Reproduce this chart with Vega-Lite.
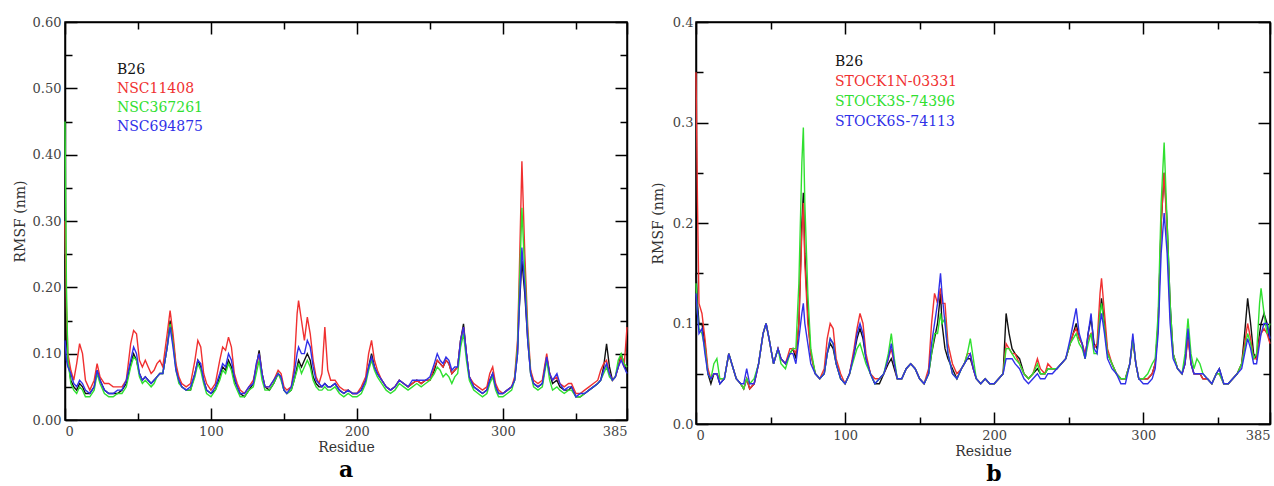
{
"$schema": "https://vega.github.io/schema/vega-lite/v6.json",
"padding": {"left": 12, "top": 15, "right": 0, "bottom": 0},
"config": {"view": {"stroke": "black", "strokeWidth": 1.5}, "font": "DejaVu Serif", "axis": {"grid": false}},
"datasets": {
"A": [
{"res":0,"B26":0.25,"NSC11408":0.30,"NSC367261":0.45,"NSC694875":0.12},
{"res":1,"B26":0.12,"NSC11408":0.17,"NSC367261":0.20,"NSC694875":0.09},
{"res":2,"B26":0.09,"NSC11408":0.10,"NSC367261":0.09,"NSC694875":0.08},
{"res":4,"B26":0.06,"NSC11408":0.075,"NSC367261":0.055,"NSC694875":0.07},
{"res":6,"B26":0.05,"NSC11408":0.06,"NSC367261":0.045,"NSC694875":0.055},
{"res":8,"B26":0.045,"NSC11408":0.085,"NSC367261":0.04,"NSC694875":0.05},
{"res":10,"B26":0.055,"NSC11408":0.115,"NSC367261":0.05,"NSC694875":0.06},
{"res":12,"B26":0.05,"NSC11408":0.10,"NSC367261":0.045,"NSC694875":0.055},
{"res":14,"B26":0.04,"NSC11408":0.06,"NSC367261":0.035,"NSC694875":0.045},
{"res":17,"B26":0.04,"NSC11408":0.045,"NSC367261":0.035,"NSC694875":0.04},
{"res":20,"B26":0.05,"NSC11408":0.06,"NSC367261":0.045,"NSC694875":0.05},
{"res":22,"B26":0.075,"NSC11408":0.085,"NSC367261":0.07,"NSC694875":0.075},
{"res":24,"B26":0.06,"NSC11408":0.065,"NSC367261":0.055,"NSC694875":0.06},
{"res":27,"B26":0.045,"NSC11408":0.055,"NSC367261":0.04,"NSC694875":0.045},
{"res":30,"B26":0.04,"NSC11408":0.055,"NSC367261":0.035,"NSC694875":0.04},
{"res":33,"B26":0.04,"NSC11408":0.05,"NSC367261":0.035,"NSC694875":0.04},
{"res":36,"B26":0.04,"NSC11408":0.05,"NSC367261":0.04,"NSC694875":0.045},
{"res":39,"B26":0.045,"NSC11408":0.05,"NSC367261":0.04,"NSC694875":0.045},
{"res":42,"B26":0.055,"NSC11408":0.06,"NSC367261":0.05,"NSC694875":0.06},
{"res":45,"B26":0.085,"NSC11408":0.115,"NSC367261":0.08,"NSC694875":0.09},
{"res":47,"B26":0.10,"NSC11408":0.135,"NSC367261":0.095,"NSC694875":0.11},
{"res":49,"B26":0.09,"NSC11408":0.13,"NSC367261":0.09,"NSC694875":0.10},
{"res":51,"B26":0.07,"NSC11408":0.09,"NSC367261":0.065,"NSC694875":0.07},
{"res":53,"B26":0.06,"NSC11408":0.08,"NSC367261":0.055,"NSC694875":0.06},
{"res":55,"B26":0.065,"NSC11408":0.09,"NSC367261":0.06,"NSC694875":0.065},
{"res":57,"B26":0.06,"NSC11408":0.08,"NSC367261":0.055,"NSC694875":0.06},
{"res":59,"B26":0.055,"NSC11408":0.07,"NSC367261":0.05,"NSC694875":0.055},
{"res":61,"B26":0.06,"NSC11408":0.075,"NSC367261":0.055,"NSC694875":0.06},
{"res":63,"B26":0.065,"NSC11408":0.085,"NSC367261":0.065,"NSC694875":0.065},
{"res":65,"B26":0.07,"NSC11408":0.09,"NSC367261":0.07,"NSC694875":0.07},
{"res":67,"B26":0.07,"NSC11408":0.08,"NSC367261":0.07,"NSC694875":0.07},
{"res":70,"B26":0.11,"NSC11408":0.13,"NSC367261":0.11,"NSC694875":0.11},
{"res":72,"B26":0.15,"NSC11408":0.165,"NSC367261":0.145,"NSC694875":0.14},
{"res":74,"B26":0.12,"NSC11408":0.13,"NSC367261":0.115,"NSC694875":0.11},
{"res":76,"B26":0.08,"NSC11408":0.085,"NSC367261":0.075,"NSC694875":0.075},
{"res":78,"B26":0.06,"NSC11408":0.065,"NSC367261":0.055,"NSC694875":0.06},
{"res":80,"B26":0.05,"NSC11408":0.055,"NSC367261":0.05,"NSC694875":0.05},
{"res":83,"B26":0.045,"NSC11408":0.05,"NSC367261":0.045,"NSC694875":0.045},
{"res":86,"B26":0.045,"NSC11408":0.055,"NSC367261":0.045,"NSC694875":0.05},
{"res":89,"B26":0.07,"NSC11408":0.09,"NSC367261":0.065,"NSC694875":0.07},
{"res":91,"B26":0.09,"NSC11408":0.12,"NSC367261":0.085,"NSC694875":0.09},
{"res":93,"B26":0.08,"NSC11408":0.11,"NSC367261":0.075,"NSC694875":0.085},
{"res":95,"B26":0.06,"NSC11408":0.07,"NSC367261":0.055,"NSC694875":0.06},
{"res":97,"B26":0.045,"NSC11408":0.055,"NSC367261":0.04,"NSC694875":0.045},
{"res":100,"B26":0.04,"NSC11408":0.045,"NSC367261":0.035,"NSC694875":0.04},
{"res":103,"B26":0.045,"NSC11408":0.055,"NSC367261":0.045,"NSC694875":0.05},
{"res":106,"B26":0.065,"NSC11408":0.09,"NSC367261":0.06,"NSC694875":0.07},
{"res":108,"B26":0.08,"NSC11408":0.11,"NSC367261":0.075,"NSC694875":0.085},
{"res":110,"B26":0.075,"NSC11408":0.105,"NSC367261":0.07,"NSC694875":0.08},
{"res":112,"B26":0.09,"NSC11408":0.125,"NSC367261":0.085,"NSC694875":0.10},
{"res":114,"B26":0.08,"NSC11408":0.11,"NSC367261":0.075,"NSC694875":0.09},
{"res":116,"B26":0.06,"NSC11408":0.07,"NSC367261":0.055,"NSC694875":0.065},
{"res":118,"B26":0.05,"NSC11408":0.055,"NSC367261":0.045,"NSC694875":0.05},
{"res":120,"B26":0.04,"NSC11408":0.045,"NSC367261":0.035,"NSC694875":0.04},
{"res":123,"B26":0.035,"NSC11408":0.04,"NSC367261":0.035,"NSC694875":0.04},
{"res":126,"B26":0.045,"NSC11408":0.05,"NSC367261":0.045,"NSC694875":0.05},
{"res":129,"B26":0.055,"NSC11408":0.06,"NSC367261":0.05,"NSC694875":0.055},
{"res":131,"B26":0.08,"NSC11408":0.08,"NSC367261":0.07,"NSC694875":0.085},
{"res":133,"B26":0.105,"NSC11408":0.10,"NSC367261":0.09,"NSC694875":0.10},
{"res":135,"B26":0.07,"NSC11408":0.07,"NSC367261":0.06,"NSC694875":0.07},
{"res":137,"B26":0.05,"NSC11408":0.05,"NSC367261":0.045,"NSC694875":0.05},
{"res":140,"B26":0.045,"NSC11408":0.05,"NSC367261":0.045,"NSC694875":0.05},
{"res":143,"B26":0.055,"NSC11408":0.06,"NSC367261":0.055,"NSC694875":0.06},
{"res":146,"B26":0.07,"NSC11408":0.075,"NSC367261":0.07,"NSC694875":0.07},
{"res":148,"B26":0.065,"NSC11408":0.07,"NSC367261":0.06,"NSC694875":0.065},
{"res":150,"B26":0.045,"NSC11408":0.05,"NSC367261":0.045,"NSC694875":0.045},
{"res":152,"B26":0.04,"NSC11408":0.045,"NSC367261":0.04,"NSC694875":0.04},
{"res":155,"B26":0.045,"NSC11408":0.05,"NSC367261":0.045,"NSC694875":0.05},
{"res":157,"B26":0.06,"NSC11408":0.08,"NSC367261":0.06,"NSC694875":0.07},
{"res":159,"B26":0.08,"NSC11408":0.16,"NSC367261":0.075,"NSC694875":0.10},
{"res":160,"B26":0.09,"NSC11408":0.18,"NSC367261":0.085,"NSC694875":0.11},
{"res":162,"B26":0.08,"NSC11408":0.15,"NSC367261":0.07,"NSC694875":0.10},
{"res":164,"B26":0.09,"NSC11408":0.12,"NSC367261":0.08,"NSC694875":0.10},
{"res":166,"B26":0.10,"NSC11408":0.155,"NSC367261":0.09,"NSC694875":0.12},
{"res":168,"B26":0.09,"NSC11408":0.13,"NSC367261":0.08,"NSC694875":0.11},
{"res":170,"B26":0.065,"NSC11408":0.09,"NSC367261":0.06,"NSC694875":0.08},
{"res":172,"B26":0.055,"NSC11408":0.065,"NSC367261":0.05,"NSC694875":0.06},
{"res":174,"B26":0.05,"NSC11408":0.055,"NSC367261":0.045,"NSC694875":0.055},
{"res":176,"B26":0.05,"NSC11408":0.07,"NSC367261":0.045,"NSC694875":0.05},
{"res":178,"B26":0.055,"NSC11408":0.14,"NSC367261":0.05,"NSC694875":0.055},
{"res":180,"B26":0.05,"NSC11408":0.075,"NSC367261":0.045,"NSC694875":0.05},
{"res":182,"B26":0.05,"NSC11408":0.06,"NSC367261":0.045,"NSC694875":0.05},
{"res":185,"B26":0.055,"NSC11408":0.06,"NSC367261":0.05,"NSC694875":0.055},
{"res":188,"B26":0.045,"NSC11408":0.05,"NSC367261":0.04,"NSC694875":0.045},
{"res":191,"B26":0.04,"NSC11408":0.045,"NSC367261":0.035,"NSC694875":0.04},
{"res":194,"B26":0.045,"NSC11408":0.045,"NSC367261":0.04,"NSC694875":0.045},
{"res":197,"B26":0.04,"NSC11408":0.04,"NSC367261":0.035,"NSC694875":0.04},
{"res":200,"B26":0.04,"NSC11408":0.04,"NSC367261":0.035,"NSC694875":0.04},
{"res":203,"B26":0.045,"NSC11408":0.05,"NSC367261":0.04,"NSC694875":0.045},
{"res":206,"B26":0.06,"NSC11408":0.065,"NSC367261":0.055,"NSC694875":0.06},
{"res":208,"B26":0.08,"NSC11408":0.10,"NSC367261":0.075,"NSC694875":0.08},
{"res":210,"B26":0.10,"NSC11408":0.12,"NSC367261":0.09,"NSC694875":0.095},
{"res":212,"B26":0.08,"NSC11408":0.09,"NSC367261":0.075,"NSC694875":0.08},
{"res":214,"B26":0.07,"NSC11408":0.075,"NSC367261":0.065,"NSC694875":0.07},
{"res":217,"B26":0.06,"NSC11408":0.06,"NSC367261":0.055,"NSC694875":0.06},
{"res":220,"B26":0.05,"NSC11408":0.05,"NSC367261":0.045,"NSC694875":0.05},
{"res":223,"B26":0.045,"NSC11408":0.045,"NSC367261":0.04,"NSC694875":0.045},
{"res":226,"B26":0.05,"NSC11408":0.05,"NSC367261":0.045,"NSC694875":0.05},
{"res":229,"B26":0.06,"NSC11408":0.06,"NSC367261":0.055,"NSC694875":0.06},
{"res":232,"B26":0.055,"NSC11408":0.055,"NSC367261":0.05,"NSC694875":0.055},
{"res":235,"B26":0.05,"NSC11408":0.05,"NSC367261":0.045,"NSC694875":0.05},
{"res":238,"B26":0.055,"NSC11408":0.055,"NSC367261":0.05,"NSC694875":0.06},
{"res":241,"B26":0.06,"NSC11408":0.06,"NSC367261":0.055,"NSC694875":0.06},
{"res":244,"B26":0.055,"NSC11408":0.055,"NSC367261":0.05,"NSC694875":0.06},
{"res":247,"B26":0.06,"NSC11408":0.06,"NSC367261":0.055,"NSC694875":0.06},
{"res":250,"B26":0.06,"NSC11408":0.06,"NSC367261":0.06,"NSC694875":0.065},
{"res":253,"B26":0.075,"NSC11408":0.08,"NSC367261":0.07,"NSC694875":0.085},
{"res":255,"B26":0.09,"NSC11408":0.09,"NSC367261":0.08,"NSC694875":0.10},
{"res":257,"B26":0.085,"NSC11408":0.085,"NSC367261":0.075,"NSC694875":0.09},
{"res":259,"B26":0.08,"NSC11408":0.08,"NSC367261":0.065,"NSC694875":0.085},
{"res":261,"B26":0.09,"NSC11408":0.09,"NSC367261":0.07,"NSC694875":0.095},
{"res":263,"B26":0.085,"NSC11408":0.085,"NSC367261":0.065,"NSC694875":0.09},
{"res":265,"B26":0.07,"NSC11408":0.07,"NSC367261":0.055,"NSC694875":0.075},
{"res":267,"B26":0.075,"NSC11408":0.075,"NSC367261":0.065,"NSC694875":0.08},
{"res":269,"B26":0.08,"NSC11408":0.08,"NSC367261":0.07,"NSC694875":0.08},
{"res":271,"B26":0.12,"NSC11408":0.12,"NSC367261":0.11,"NSC694875":0.12},
{"res":273,"B26":0.145,"NSC11408":0.14,"NSC367261":0.13,"NSC694875":0.14},
{"res":275,"B26":0.10,"NSC11408":0.10,"NSC367261":0.09,"NSC694875":0.10},
{"res":277,"B26":0.065,"NSC11408":0.065,"NSC367261":0.06,"NSC694875":0.065},
{"res":280,"B26":0.05,"NSC11408":0.055,"NSC367261":0.045,"NSC694875":0.05},
{"res":283,"B26":0.045,"NSC11408":0.05,"NSC367261":0.04,"NSC694875":0.045},
{"res":286,"B26":0.04,"NSC11408":0.045,"NSC367261":0.035,"NSC694875":0.04},
{"res":289,"B26":0.045,"NSC11408":0.05,"NSC367261":0.04,"NSC694875":0.045},
{"res":291,"B26":0.06,"NSC11408":0.07,"NSC367261":0.055,"NSC694875":0.06},
{"res":293,"B26":0.07,"NSC11408":0.08,"NSC367261":0.065,"NSC694875":0.07},
{"res":295,"B26":0.05,"NSC11408":0.055,"NSC367261":0.045,"NSC694875":0.05},
{"res":297,"B26":0.04,"NSC11408":0.045,"NSC367261":0.035,"NSC694875":0.04},
{"res":300,"B26":0.04,"NSC11408":0.04,"NSC367261":0.035,"NSC694875":0.04},
{"res":303,"B26":0.045,"NSC11408":0.045,"NSC367261":0.04,"NSC694875":0.045},
{"res":306,"B26":0.05,"NSC11408":0.05,"NSC367261":0.045,"NSC694875":0.05},
{"res":308,"B26":0.06,"NSC11408":0.065,"NSC367261":0.06,"NSC694875":0.06},
{"res":310,"B26":0.10,"NSC11408":0.12,"NSC367261":0.11,"NSC694875":0.10},
{"res":311,"B26":0.16,"NSC11408":0.20,"NSC367261":0.18,"NSC694875":0.16},
{"res":313,"B26":0.24,"NSC11408":0.39,"NSC367261":0.32,"NSC694875":0.26},
{"res":315,"B26":0.19,"NSC11408":0.25,"NSC367261":0.22,"NSC694875":0.20},
{"res":317,"B26":0.12,"NSC11408":0.14,"NSC367261":0.13,"NSC694875":0.12},
{"res":319,"B26":0.07,"NSC11408":0.075,"NSC367261":0.07,"NSC694875":0.07},
{"res":321,"B26":0.055,"NSC11408":0.06,"NSC367261":0.05,"NSC694875":0.055},
{"res":324,"B26":0.05,"NSC11408":0.055,"NSC367261":0.045,"NSC694875":0.05},
{"res":327,"B26":0.055,"NSC11408":0.06,"NSC367261":0.05,"NSC694875":0.055},
{"res":330,"B26":0.095,"NSC11408":0.10,"NSC367261":0.09,"NSC694875":0.095},
{"res":332,"B26":0.07,"NSC11408":0.07,"NSC367261":0.06,"NSC694875":0.07},
{"res":334,"B26":0.055,"NSC11408":0.06,"NSC367261":0.045,"NSC694875":0.06},
{"res":337,"B26":0.06,"NSC11408":0.065,"NSC367261":0.05,"NSC694875":0.07},
{"res":339,"B26":0.05,"NSC11408":0.055,"NSC367261":0.045,"NSC694875":0.055},
{"res":342,"B26":0.045,"NSC11408":0.05,"NSC367261":0.04,"NSC694875":0.045},
{"res":345,"B26":0.045,"NSC11408":0.055,"NSC367261":0.045,"NSC694875":0.05},
{"res":347,"B26":0.05,"NSC11408":0.055,"NSC367261":0.045,"NSC694875":0.05},
{"res":350,"B26":0.035,"NSC11408":0.04,"NSC367261":0.035,"NSC694875":0.035},
{"res":353,"B26":0.035,"NSC11408":0.04,"NSC367261":0.035,"NSC694875":0.04},
{"res":356,"B26":0.04,"NSC11408":0.045,"NSC367261":0.04,"NSC694875":0.04},
{"res":359,"B26":0.045,"NSC11408":0.05,"NSC367261":0.045,"NSC694875":0.045},
{"res":362,"B26":0.05,"NSC11408":0.055,"NSC367261":0.05,"NSC694875":0.05},
{"res":365,"B26":0.055,"NSC11408":0.06,"NSC367261":0.055,"NSC694875":0.055},
{"res":367,"B26":0.06,"NSC11408":0.075,"NSC367261":0.06,"NSC694875":0.06},
{"res":369,"B26":0.08,"NSC11408":0.085,"NSC367261":0.07,"NSC694875":0.075},
{"res":371,"B26":0.115,"NSC11408":0.09,"NSC367261":0.08,"NSC694875":0.085},
{"res":373,"B26":0.08,"NSC11408":0.07,"NSC367261":0.065,"NSC694875":0.07},
{"res":375,"B26":0.06,"NSC11408":0.06,"NSC367261":0.06,"NSC694875":0.06},
{"res":377,"B26":0.065,"NSC11408":0.065,"NSC367261":0.065,"NSC694875":0.065},
{"res":379,"B26":0.08,"NSC11408":0.08,"NSC367261":0.09,"NSC694875":0.08},
{"res":381,"B26":0.10,"NSC11408":0.095,"NSC367261":0.10,"NSC694875":0.09},
{"res":383,"B26":0.085,"NSC11408":0.08,"NSC367261":0.085,"NSC694875":0.08},
{"res":385,"B26":0.07,"NSC11408":0.14,"NSC367261":0.08,"NSC694875":0.07}
],
"B": [
{"res":0,"B26":0.15,"STOCK1N-03331":0.35,"STOCK3S-74396":0.14,"STOCK6S-74113":0.13},
{"res":1,"B26":0.12,"STOCK1N-03331":0.22,"STOCK3S-74396":0.11,"STOCK6S-74113":0.11},
{"res":2,"B26":0.10,"STOCK1N-03331":0.12,"STOCK3S-74396":0.095,"STOCK6S-74113":0.09},
{"res":4,"B26":0.10,"STOCK1N-03331":0.11,"STOCK3S-74396":0.09,"STOCK6S-74113":0.095},
{"res":6,"B26":0.08,"STOCK1N-03331":0.085,"STOCK3S-74396":0.075,"STOCK6S-74113":0.07},
{"res":8,"B26":0.05,"STOCK1N-03331":0.055,"STOCK3S-74396":0.05,"STOCK6S-74113":0.05},
{"res":10,"B26":0.04,"STOCK1N-03331":0.045,"STOCK3S-74396":0.045,"STOCK6S-74113":0.045},
{"res":12,"B26":0.05,"STOCK1N-03331":0.05,"STOCK3S-74396":0.06,"STOCK6S-74113":0.05},
{"res":14,"B26":0.05,"STOCK1N-03331":0.05,"STOCK3S-74396":0.065,"STOCK6S-74113":0.05},
{"res":16,"B26":0.04,"STOCK1N-03331":0.045,"STOCK3S-74396":0.045,"STOCK6S-74113":0.04},
{"res":19,"B26":0.045,"STOCK1N-03331":0.045,"STOCK3S-74396":0.045,"STOCK6S-74113":0.045},
{"res":22,"B26":0.07,"STOCK1N-03331":0.07,"STOCK3S-74396":0.07,"STOCK6S-74113":0.07},
{"res":24,"B26":0.06,"STOCK1N-03331":0.06,"STOCK3S-74396":0.06,"STOCK6S-74113":0.06},
{"res":27,"B26":0.045,"STOCK1N-03331":0.045,"STOCK3S-74396":0.045,"STOCK6S-74113":0.045},
{"res":30,"B26":0.04,"STOCK1N-03331":0.04,"STOCK3S-74396":0.04,"STOCK6S-74113":0.04},
{"res":32,"B26":0.035,"STOCK1N-03331":0.035,"STOCK3S-74396":0.035,"STOCK6S-74113":0.04},
{"res":34,"B26":0.045,"STOCK1N-03331":0.045,"STOCK3S-74396":0.045,"STOCK6S-74113":0.055},
{"res":36,"B26":0.035,"STOCK1N-03331":0.035,"STOCK3S-74396":0.04,"STOCK6S-74113":0.04},
{"res":39,"B26":0.04,"STOCK1N-03331":0.04,"STOCK3S-74396":0.045,"STOCK6S-74113":0.04},
{"res":42,"B26":0.06,"STOCK1N-03331":0.06,"STOCK3S-74396":0.06,"STOCK6S-74113":0.06},
{"res":45,"B26":0.09,"STOCK1N-03331":0.09,"STOCK3S-74396":0.09,"STOCK6S-74113":0.09},
{"res":47,"B26":0.10,"STOCK1N-03331":0.10,"STOCK3S-74396":0.10,"STOCK6S-74113":0.10},
{"res":49,"B26":0.085,"STOCK1N-03331":0.085,"STOCK3S-74396":0.085,"STOCK6S-74113":0.085},
{"res":52,"B26":0.06,"STOCK1N-03331":0.06,"STOCK3S-74396":0.06,"STOCK6S-74113":0.06},
{"res":55,"B26":0.075,"STOCK1N-03331":0.075,"STOCK3S-74396":0.075,"STOCK6S-74113":0.075},
{"res":57,"B26":0.065,"STOCK1N-03331":0.065,"STOCK3S-74396":0.06,"STOCK6S-74113":0.065},
{"res":60,"B26":0.06,"STOCK1N-03331":0.06,"STOCK3S-74396":0.055,"STOCK6S-74113":0.06},
{"res":63,"B26":0.07,"STOCK1N-03331":0.075,"STOCK3S-74396":0.07,"STOCK6S-74113":0.07},
{"res":65,"B26":0.075,"STOCK1N-03331":0.075,"STOCK3S-74396":0.075,"STOCK6S-74113":0.07},
{"res":67,"B26":0.065,"STOCK1N-03331":0.07,"STOCK3S-74396":0.075,"STOCK6S-74113":0.06},
{"res":69,"B26":0.10,"STOCK1N-03331":0.10,"STOCK3S-74396":0.14,"STOCK6S-74113":0.085},
{"res":71,"B26":0.20,"STOCK1N-03331":0.19,"STOCK3S-74396":0.26,"STOCK6S-74113":0.11},
{"res":72,"B26":0.23,"STOCK1N-03331":0.22,"STOCK3S-74396":0.295,"STOCK6S-74113":0.12},
{"res":73,"B26":0.17,"STOCK1N-03331":0.16,"STOCK3S-74396":0.22,"STOCK6S-74113":0.10},
{"res":75,"B26":0.11,"STOCK1N-03331":0.10,"STOCK3S-74396":0.13,"STOCK6S-74113":0.08},
{"res":77,"B26":0.07,"STOCK1N-03331":0.07,"STOCK3S-74396":0.075,"STOCK6S-74113":0.06},
{"res":80,"B26":0.05,"STOCK1N-03331":0.05,"STOCK3S-74396":0.05,"STOCK6S-74113":0.05},
{"res":83,"B26":0.045,"STOCK1N-03331":0.045,"STOCK3S-74396":0.045,"STOCK6S-74113":0.045},
{"res":86,"B26":0.05,"STOCK1N-03331":0.055,"STOCK3S-74396":0.05,"STOCK6S-74113":0.05},
{"res":88,"B26":0.07,"STOCK1N-03331":0.085,"STOCK3S-74396":0.07,"STOCK6S-74113":0.07},
{"res":90,"B26":0.08,"STOCK1N-03331":0.10,"STOCK3S-74396":0.085,"STOCK6S-74113":0.085},
{"res":92,"B26":0.075,"STOCK1N-03331":0.095,"STOCK3S-74396":0.08,"STOCK6S-74113":0.08},
{"res":94,"B26":0.06,"STOCK1N-03331":0.065,"STOCK3S-74396":0.06,"STOCK6S-74113":0.06},
{"res":97,"B26":0.045,"STOCK1N-03331":0.05,"STOCK3S-74396":0.045,"STOCK6S-74113":0.045},
{"res":100,"B26":0.04,"STOCK1N-03331":0.04,"STOCK3S-74396":0.04,"STOCK6S-74113":0.04},
{"res":103,"B26":0.05,"STOCK1N-03331":0.05,"STOCK3S-74396":0.05,"STOCK6S-74113":0.05},
{"res":106,"B26":0.07,"STOCK1N-03331":0.075,"STOCK3S-74396":0.065,"STOCK6S-74113":0.07},
{"res":108,"B26":0.085,"STOCK1N-03331":0.095,"STOCK3S-74396":0.075,"STOCK6S-74113":0.09},
{"res":110,"B26":0.095,"STOCK1N-03331":0.11,"STOCK3S-74396":0.08,"STOCK6S-74113":0.10},
{"res":112,"B26":0.085,"STOCK1N-03331":0.10,"STOCK3S-74396":0.07,"STOCK6S-74113":0.09},
{"res":114,"B26":0.065,"STOCK1N-03331":0.07,"STOCK3S-74396":0.06,"STOCK6S-74113":0.065},
{"res":117,"B26":0.05,"STOCK1N-03331":0.05,"STOCK3S-74396":0.05,"STOCK6S-74113":0.05},
{"res":120,"B26":0.04,"STOCK1N-03331":0.045,"STOCK3S-74396":0.04,"STOCK6S-74113":0.04},
{"res":123,"B26":0.04,"STOCK1N-03331":0.045,"STOCK3S-74396":0.045,"STOCK6S-74113":0.045},
{"res":126,"B26":0.05,"STOCK1N-03331":0.05,"STOCK3S-74396":0.05,"STOCK6S-74113":0.05},
{"res":129,"B26":0.06,"STOCK1N-03331":0.065,"STOCK3S-74396":0.07,"STOCK6S-74113":0.065},
{"res":131,"B26":0.065,"STOCK1N-03331":0.075,"STOCK3S-74396":0.09,"STOCK6S-74113":0.08},
{"res":133,"B26":0.055,"STOCK1N-03331":0.06,"STOCK3S-74396":0.065,"STOCK6S-74113":0.06},
{"res":135,"B26":0.045,"STOCK1N-03331":0.045,"STOCK3S-74396":0.045,"STOCK6S-74113":0.045},
{"res":138,"B26":0.045,"STOCK1N-03331":0.045,"STOCK3S-74396":0.045,"STOCK6S-74113":0.045},
{"res":141,"B26":0.055,"STOCK1N-03331":0.055,"STOCK3S-74396":0.055,"STOCK6S-74113":0.055},
{"res":144,"B26":0.06,"STOCK1N-03331":0.06,"STOCK3S-74396":0.06,"STOCK6S-74113":0.06},
{"res":147,"B26":0.055,"STOCK1N-03331":0.055,"STOCK3S-74396":0.055,"STOCK6S-74113":0.055},
{"res":150,"B26":0.045,"STOCK1N-03331":0.045,"STOCK3S-74396":0.045,"STOCK6S-74113":0.045},
{"res":153,"B26":0.04,"STOCK1N-03331":0.04,"STOCK3S-74396":0.04,"STOCK6S-74113":0.04},
{"res":156,"B26":0.05,"STOCK1N-03331":0.055,"STOCK3S-74396":0.05,"STOCK6S-74113":0.05},
{"res":158,"B26":0.07,"STOCK1N-03331":0.10,"STOCK3S-74396":0.07,"STOCK6S-74113":0.08},
{"res":160,"B26":0.085,"STOCK1N-03331":0.13,"STOCK3S-74396":0.09,"STOCK6S-74113":0.10},
{"res":162,"B26":0.10,"STOCK1N-03331":0.12,"STOCK3S-74396":0.09,"STOCK6S-74113":0.12},
{"res":164,"B26":0.13,"STOCK1N-03331":0.135,"STOCK3S-74396":0.11,"STOCK6S-74113":0.15},
{"res":165,"B26":0.10,"STOCK1N-03331":0.12,"STOCK3S-74396":0.10,"STOCK6S-74113":0.13},
{"res":167,"B26":0.075,"STOCK1N-03331":0.12,"STOCK3S-74396":0.105,"STOCK6S-74113":0.10},
{"res":169,"B26":0.065,"STOCK1N-03331":0.08,"STOCK3S-74396":0.07,"STOCK6S-74113":0.07},
{"res":172,"B26":0.055,"STOCK1N-03331":0.06,"STOCK3S-74396":0.05,"STOCK6S-74113":0.05},
{"res":175,"B26":0.045,"STOCK1N-03331":0.05,"STOCK3S-74396":0.045,"STOCK6S-74113":0.045},
{"res":178,"B26":0.055,"STOCK1N-03331":0.055,"STOCK3S-74396":0.055,"STOCK6S-74113":0.055},
{"res":180,"B26":0.06,"STOCK1N-03331":0.06,"STOCK3S-74396":0.06,"STOCK6S-74113":0.06},
{"res":182,"B26":0.065,"STOCK1N-03331":0.07,"STOCK3S-74396":0.07,"STOCK6S-74113":0.065},
{"res":184,"B26":0.065,"STOCK1N-03331":0.07,"STOCK3S-74396":0.085,"STOCK6S-74113":0.07},
{"res":186,"B26":0.055,"STOCK1N-03331":0.055,"STOCK3S-74396":0.065,"STOCK6S-74113":0.055},
{"res":188,"B26":0.045,"STOCK1N-03331":0.045,"STOCK3S-74396":0.045,"STOCK6S-74113":0.045},
{"res":191,"B26":0.04,"STOCK1N-03331":0.04,"STOCK3S-74396":0.04,"STOCK6S-74113":0.04},
{"res":194,"B26":0.045,"STOCK1N-03331":0.045,"STOCK3S-74396":0.045,"STOCK6S-74113":0.045},
{"res":197,"B26":0.04,"STOCK1N-03331":0.04,"STOCK3S-74396":0.04,"STOCK6S-74113":0.04},
{"res":200,"B26":0.04,"STOCK1N-03331":0.04,"STOCK3S-74396":0.04,"STOCK6S-74113":0.04},
{"res":203,"B26":0.045,"STOCK1N-03331":0.045,"STOCK3S-74396":0.045,"STOCK6S-74113":0.045},
{"res":206,"B26":0.05,"STOCK1N-03331":0.05,"STOCK3S-74396":0.05,"STOCK6S-74113":0.05},
{"res":208,"B26":0.11,"STOCK1N-03331":0.08,"STOCK3S-74396":0.075,"STOCK6S-74113":0.065},
{"res":210,"B26":0.09,"STOCK1N-03331":0.075,"STOCK3S-74396":0.075,"STOCK6S-74113":0.065},
{"res":212,"B26":0.075,"STOCK1N-03331":0.07,"STOCK3S-74396":0.07,"STOCK6S-74113":0.065},
{"res":214,"B26":0.07,"STOCK1N-03331":0.07,"STOCK3S-74396":0.065,"STOCK6S-74113":0.06},
{"res":217,"B26":0.065,"STOCK1N-03331":0.06,"STOCK3S-74396":0.06,"STOCK6S-74113":0.055},
{"res":220,"B26":0.05,"STOCK1N-03331":0.05,"STOCK3S-74396":0.05,"STOCK6S-74113":0.045},
{"res":223,"B26":0.045,"STOCK1N-03331":0.045,"STOCK3S-74396":0.045,"STOCK6S-74113":0.04},
{"res":226,"B26":0.05,"STOCK1N-03331":0.05,"STOCK3S-74396":0.05,"STOCK6S-74113":0.045},
{"res":229,"B26":0.055,"STOCK1N-03331":0.065,"STOCK3S-74396":0.06,"STOCK6S-74113":0.05},
{"res":231,"B26":0.05,"STOCK1N-03331":0.055,"STOCK3S-74396":0.05,"STOCK6S-74113":0.045},
{"res":234,"B26":0.05,"STOCK1N-03331":0.05,"STOCK3S-74396":0.05,"STOCK6S-74113":0.045},
{"res":236,"B26":0.055,"STOCK1N-03331":0.06,"STOCK3S-74396":0.055,"STOCK6S-74113":0.05},
{"res":239,"B26":0.055,"STOCK1N-03331":0.055,"STOCK3S-74396":0.055,"STOCK6S-74113":0.05},
{"res":242,"B26":0.055,"STOCK1N-03331":0.055,"STOCK3S-74396":0.055,"STOCK6S-74113":0.055},
{"res":245,"B26":0.06,"STOCK1N-03331":0.06,"STOCK3S-74396":0.06,"STOCK6S-74113":0.06},
{"res":248,"B26":0.065,"STOCK1N-03331":0.065,"STOCK3S-74396":0.065,"STOCK6S-74113":0.065},
{"res":251,"B26":0.08,"STOCK1N-03331":0.08,"STOCK3S-74396":0.08,"STOCK6S-74113":0.085},
{"res":253,"B26":0.09,"STOCK1N-03331":0.09,"STOCK3S-74396":0.085,"STOCK6S-74113":0.10},
{"res":255,"B26":0.10,"STOCK1N-03331":0.095,"STOCK3S-74396":0.09,"STOCK6S-74113":0.115},
{"res":257,"B26":0.085,"STOCK1N-03331":0.085,"STOCK3S-74396":0.08,"STOCK6S-74113":0.09},
{"res":259,"B26":0.08,"STOCK1N-03331":0.08,"STOCK3S-74396":0.075,"STOCK6S-74113":0.08},
{"res":261,"B26":0.065,"STOCK1N-03331":0.07,"STOCK3S-74396":0.065,"STOCK6S-74113":0.065},
{"res":263,"B26":0.09,"STOCK1N-03331":0.085,"STOCK3S-74396":0.08,"STOCK6S-74113":0.09},
{"res":265,"B26":0.105,"STOCK1N-03331":0.09,"STOCK3S-74396":0.09,"STOCK6S-74113":0.11},
{"res":267,"B26":0.08,"STOCK1N-03331":0.075,"STOCK3S-74396":0.07,"STOCK6S-74113":0.075},
{"res":269,"B26":0.075,"STOCK1N-03331":0.08,"STOCK3S-74396":0.07,"STOCK6S-74113":0.07},
{"res":271,"B26":0.11,"STOCK1N-03331":0.13,"STOCK3S-74396":0.11,"STOCK6S-74113":0.10},
{"res":272,"B26":0.125,"STOCK1N-03331":0.145,"STOCK3S-74396":0.12,"STOCK6S-74113":0.11},
{"res":274,"B26":0.10,"STOCK1N-03331":0.11,"STOCK3S-74396":0.095,"STOCK6S-74113":0.09},
{"res":276,"B26":0.07,"STOCK1N-03331":0.075,"STOCK3S-74396":0.07,"STOCK6S-74113":0.065},
{"res":279,"B26":0.06,"STOCK1N-03331":0.06,"STOCK3S-74396":0.06,"STOCK6S-74113":0.055},
{"res":282,"B26":0.05,"STOCK1N-03331":0.05,"STOCK3S-74396":0.05,"STOCK6S-74113":0.05},
{"res":285,"B26":0.045,"STOCK1N-03331":0.045,"STOCK3S-74396":0.045,"STOCK6S-74113":0.04},
{"res":288,"B26":0.045,"STOCK1N-03331":0.045,"STOCK3S-74396":0.045,"STOCK6S-74113":0.04},
{"res":291,"B26":0.06,"STOCK1N-03331":0.06,"STOCK3S-74396":0.06,"STOCK6S-74113":0.06},
{"res":293,"B26":0.085,"STOCK1N-03331":0.085,"STOCK3S-74396":0.085,"STOCK6S-74113":0.09},
{"res":295,"B26":0.06,"STOCK1N-03331":0.06,"STOCK3S-74396":0.06,"STOCK6S-74113":0.06},
{"res":297,"B26":0.045,"STOCK1N-03331":0.045,"STOCK3S-74396":0.045,"STOCK6S-74113":0.045},
{"res":300,"B26":0.045,"STOCK1N-03331":0.045,"STOCK3S-74396":0.045,"STOCK6S-74113":0.04},
{"res":303,"B26":0.045,"STOCK1N-03331":0.045,"STOCK3S-74396":0.05,"STOCK6S-74113":0.04},
{"res":306,"B26":0.05,"STOCK1N-03331":0.05,"STOCK3S-74396":0.06,"STOCK6S-74113":0.045},
{"res":308,"B26":0.06,"STOCK1N-03331":0.06,"STOCK3S-74396":0.065,"STOCK6S-74113":0.055},
{"res":310,"B26":0.10,"STOCK1N-03331":0.10,"STOCK3S-74396":0.11,"STOCK6S-74113":0.09},
{"res":312,"B26":0.20,"STOCK1N-03331":0.20,"STOCK3S-74396":0.22,"STOCK6S-74113":0.17},
{"res":314,"B26":0.25,"STOCK1N-03331":0.25,"STOCK3S-74396":0.28,"STOCK6S-74113":0.21},
{"res":316,"B26":0.20,"STOCK1N-03331":0.19,"STOCK3S-74396":0.20,"STOCK6S-74113":0.17},
{"res":318,"B26":0.12,"STOCK1N-03331":0.11,"STOCK3S-74396":0.12,"STOCK6S-74113":0.10},
{"res":320,"B26":0.07,"STOCK1N-03331":0.07,"STOCK3S-74396":0.07,"STOCK6S-74113":0.065},
{"res":323,"B26":0.055,"STOCK1N-03331":0.055,"STOCK3S-74396":0.055,"STOCK6S-74113":0.055},
{"res":326,"B26":0.05,"STOCK1N-03331":0.05,"STOCK3S-74396":0.05,"STOCK6S-74113":0.05},
{"res":328,"B26":0.06,"STOCK1N-03331":0.06,"STOCK3S-74396":0.07,"STOCK6S-74113":0.06},
{"res":330,"B26":0.09,"STOCK1N-03331":0.085,"STOCK3S-74396":0.105,"STOCK6S-74113":0.095},
{"res":332,"B26":0.06,"STOCK1N-03331":0.06,"STOCK3S-74396":0.07,"STOCK6S-74113":0.06},
{"res":334,"B26":0.05,"STOCK1N-03331":0.05,"STOCK3S-74396":0.055,"STOCK6S-74113":0.05},
{"res":336,"B26":0.05,"STOCK1N-03331":0.05,"STOCK3S-74396":0.065,"STOCK6S-74113":0.05},
{"res":338,"B26":0.05,"STOCK1N-03331":0.05,"STOCK3S-74396":0.06,"STOCK6S-74113":0.05},
{"res":340,"B26":0.045,"STOCK1N-03331":0.045,"STOCK3S-74396":0.05,"STOCK6S-74113":0.05},
{"res":343,"B26":0.045,"STOCK1N-03331":0.045,"STOCK3S-74396":0.045,"STOCK6S-74113":0.045},
{"res":346,"B26":0.04,"STOCK1N-03331":0.04,"STOCK3S-74396":0.04,"STOCK6S-74113":0.04},
{"res":349,"B26":0.05,"STOCK1N-03331":0.05,"STOCK3S-74396":0.05,"STOCK6S-74113":0.05},
{"res":351,"B26":0.055,"STOCK1N-03331":0.05,"STOCK3S-74396":0.05,"STOCK6S-74113":0.055},
{"res":354,"B26":0.04,"STOCK1N-03331":0.04,"STOCK3S-74396":0.04,"STOCK6S-74113":0.04},
{"res":357,"B26":0.04,"STOCK1N-03331":0.04,"STOCK3S-74396":0.04,"STOCK6S-74113":0.04},
{"res":360,"B26":0.045,"STOCK1N-03331":0.045,"STOCK3S-74396":0.045,"STOCK6S-74113":0.045},
{"res":363,"B26":0.05,"STOCK1N-03331":0.05,"STOCK3S-74396":0.05,"STOCK6S-74113":0.05},
{"res":366,"B26":0.06,"STOCK1N-03331":0.06,"STOCK3S-74396":0.06,"STOCK6S-74113":0.055},
{"res":368,"B26":0.09,"STOCK1N-03331":0.08,"STOCK3S-74396":0.075,"STOCK6S-74113":0.07},
{"res":370,"B26":0.125,"STOCK1N-03331":0.10,"STOCK3S-74396":0.09,"STOCK6S-74113":0.085},
{"res":372,"B26":0.10,"STOCK1N-03331":0.085,"STOCK3S-74396":0.08,"STOCK6S-74113":0.075},
{"res":374,"B26":0.07,"STOCK1N-03331":0.065,"STOCK3S-74396":0.065,"STOCK6S-74113":0.06},
{"res":376,"B26":0.065,"STOCK1N-03331":0.065,"STOCK3S-74396":0.07,"STOCK6S-74113":0.06},
{"res":378,"B26":0.09,"STOCK1N-03331":0.085,"STOCK3S-74396":0.12,"STOCK6S-74113":0.08},
{"res":379,"B26":0.10,"STOCK1N-03331":0.09,"STOCK3S-74396":0.135,"STOCK6S-74113":0.09},
{"res":381,"B26":0.11,"STOCK1N-03331":0.095,"STOCK3S-74396":0.11,"STOCK6S-74113":0.10},
{"res":383,"B26":0.10,"STOCK1N-03331":0.09,"STOCK3S-74396":0.09,"STOCK6S-74113":0.10},
{"res":385,"B26":0.08,"STOCK1N-03331":0.08,"STOCK3S-74396":0.10,"STOCK6S-74113":0.085}
]
},
"hconcat": [
{
"data": {"name": "A"},
"transform": [{"fold": ["B26","NSC11408","NSC367261","NSC694875"], "as": ["series","rmsf"]}],
"width": 562, "height": 398,
"title": {"text": "a", "orient": "bottom", "fontSize": 22, "fontWeight": "bold", "font": "DejaVu Serif", "offset": 6, "color": "black"},
"resolve": {"axis": {"x": "independent", "y": "independent"}},
"layer": [
{
"mark": {"type": "line", "opacity": 0},
"encoding": {
"x": {"field": "res", "type": "quantitative", "scale": {"domain": [0,385], "nice": false, "zero": false}, "axis": {"orient": "bottom", "values": [50,150,250,350], "labels": false, "title": null, "domain": false, "tickSize": -7, "tickWidth": 1.5, "tickColor": "black"}},
"y": {"field": "rmsf", "type": "quantitative", "scale": {"domain": [0,0.6], "nice": false}, "axis": {"orient": "left", "values": [0.05,0.15,0.25,0.35,0.45,0.55], "labels": false, "title": null, "domain": false, "tickSize": -7, "tickWidth": 1.5, "tickColor": "black"}}
}
},
{
"mark": {"type": "line", "opacity": 0},
"encoding": {
"x": {"field": "res", "type": "quantitative", "axis": {"orient": "top", "values": [0,100,200,300,385], "labels": false, "title": null, "domainColor": "black", "domainWidth": 1.5, "tickSize": -12, "tickWidth": 1.5, "tickColor": "black"}},
"y": {"field": "rmsf", "type": "quantitative", "axis": {"orient": "right", "values": [0,0.1,0.2,0.3,0.4,0.5,0.6], "labels": false, "title": null, "domainColor": "black", "domainWidth": 1.5, "tickSize": -12, "tickWidth": 1.5, "tickColor": "black"}}
}
},
{
"mark": {"type": "line", "opacity": 0},
"encoding": {
"x": {"field": "res", "type": "quantitative", "axis": {"orient": "top", "values": [50,150,250,350], "labels": false, "title": null, "domain": false, "tickSize": -7, "tickWidth": 1.5, "tickColor": "black"}},
"y": {"field": "rmsf", "type": "quantitative", "axis": {"orient": "right", "values": [0.05,0.15,0.25,0.35,0.45,0.55], "labels": false, "title": null, "domain": false, "tickSize": -7, "tickWidth": 1.5, "tickColor": "black"}}
}
},
{
"mark": {"type": "line", "strokeWidth": 1.4},
"encoding": {
"x": {"field": "res", "type": "quantitative", "axis": {"orient": "bottom", "values": [0,100,200,300,385], "format": "d", "labelFlush": true, "title": "Residue", "titleFont": "DejaVu Serif", "titleFontSize": 14, "titleFontWeight": "normal", "titleColor": "#333", "titlePadding": 2, "labelFont": "DejaVu Serif", "labelFontSize": 13, "labelColor": "#444", "labelPadding": 17, "domainColor": "black", "domainWidth": 1.5, "tickSize": -12, "tickWidth": 1.5, "tickColor": "black"}},
"y": {"field": "rmsf", "type": "quantitative", "axis": {"orient": "left", "values": [0,0.1,0.2,0.3,0.4,0.5,0.6], "format": ".2f", "title": "RMSF (nm)", "titleFont": "DejaVu Serif", "titleFontSize": 14, "titleFontWeight": "normal", "titleColor": "#333", "titlePadding": 5, "labelFont": "DejaVu Serif", "labelFontSize": 13, "labelColor": "#444", "labelPadding": 16, "domainColor": "black", "domainWidth": 1.5, "tickSize": -12, "tickWidth": 1.5, "tickColor": "black"}},
"color": {"field": "series", "type": "nominal", "scale": {"domain": ["B26","NSC11408","NSC367261","NSC694875"], "range": ["#111111","#f03030","#30e030","#3030e8"]},
"legend": {"title": null, "orient": "none", "legendX": 38, "legendY": 41, "symbolSize": 0, "symbolOpacity": 0, "symbolStrokeWidth": 0, "labelOffset": 0, "labelFont": "DejaVu Serif", "labelFontSize": 14, "rowPadding": 5,
"encode": {"labels": {"update": {"fill": {"signal": "datum.value === 'B26' ? '#111111' : datum.value === 'NSC11408' ? '#f03030' : datum.value === 'NSC367261' ? '#30e030' : '#3030e8'"}}}}}}
}
}
]
},
{
"data": {"name": "B"},
"transform": [{"fold": ["B26","STOCK1N-03331","STOCK3S-74396","STOCK6S-74113"], "as": ["series","rmsf"]}],
"width": 574, "height": 402,
"title": {"text": "b", "orient": "bottom", "fontSize": 22, "fontWeight": "bold", "font": "DejaVu Serif", "offset": 6, "dx": 11, "color": "black"},
"resolve": {"axis": {"x": "independent", "y": "independent"}},
"layer": [
{
"mark": {"type": "line", "opacity": 0},
"encoding": {
"x": {"field": "res", "type": "quantitative", "scale": {"domain": [0,385], "nice": false, "zero": false}, "axis": {"orient": "bottom", "values": [50,150,250,350], "labels": false, "title": null, "domain": false, "tickSize": -7, "tickWidth": 1.5, "tickColor": "black"}},
"y": {"field": "rmsf", "type": "quantitative", "scale": {"domain": [0,0.4], "nice": false}, "axis": {"orient": "left", "values": [0.05,0.15,0.25,0.35], "labels": false, "title": null, "domain": false, "tickSize": -7, "tickWidth": 1.5, "tickColor": "black"}}
}
},
{
"mark": {"type": "line", "opacity": 0},
"encoding": {
"x": {"field": "res", "type": "quantitative", "axis": {"orient": "top", "values": [0,100,200,300,385], "labels": false, "title": null, "domainColor": "black", "domainWidth": 1.5, "tickSize": -12, "tickWidth": 1.5, "tickColor": "black"}},
"y": {"field": "rmsf", "type": "quantitative", "axis": {"orient": "right", "values": [0,0.1,0.2,0.3,0.4], "labels": false, "title": null, "domainColor": "black", "domainWidth": 1.5, "tickSize": -12, "tickWidth": 1.5, "tickColor": "black"}}
}
},
{
"mark": {"type": "line", "opacity": 0},
"encoding": {
"x": {"field": "res", "type": "quantitative", "axis": {"orient": "top", "values": [50,150,250,350], "labels": false, "title": null, "domain": false, "tickSize": -7, "tickWidth": 1.5, "tickColor": "black"}},
"y": {"field": "rmsf", "type": "quantitative", "axis": {"orient": "right", "values": [0.05,0.15,0.25,0.35], "labels": false, "title": null, "domain": false, "tickSize": -7, "tickWidth": 1.5, "tickColor": "black"}}
}
},
{
"mark": {"type": "line", "strokeWidth": 1.4},
"encoding": {
"x": {"field": "res", "type": "quantitative", "axis": {"orient": "bottom", "values": [0,100,200,300,385], "format": "d", "labelFlush": true, "title": "Residue", "titleFont": "DejaVu Serif", "titleFontSize": 14, "titleFontWeight": "normal", "titleColor": "#333", "titlePadding": 2, "labelFont": "DejaVu Serif", "labelFontSize": 13, "labelColor": "#444", "labelPadding": 17, "domainColor": "black", "domainWidth": 1.5, "tickSize": -12, "tickWidth": 1.5, "tickColor": "black"}},
"y": {"field": "rmsf", "type": "quantitative", "axis": {"orient": "left", "values": [0,0.1,0.2,0.3,0.4], "format": ".1f", "title": "RMSF (nm)", "titleFont": "DejaVu Serif", "titleFontSize": 14, "titleFontWeight": "normal", "titleColor": "#333", "titlePadding": 7, "labelFont": "DejaVu Serif", "labelFontSize": 13, "labelColor": "#444", "labelPadding": 15, "domainColor": "black", "domainWidth": 1.5, "tickSize": -12, "tickWidth": 1.5, "tickColor": "black"}},
"color": {"field": "series", "type": "nominal", "scale": {"domain": ["B26","STOCK1N-03331","STOCK3S-74396","STOCK6S-74113"], "range": ["#111111","#f03030","#30e030","#3030e8"]},
"legend": {"title": null, "orient": "none", "legendX": 125, "legendY": 33, "symbolSize": 0, "symbolOpacity": 0, "symbolStrokeWidth": 0, "labelOffset": 0, "labelFont": "DejaVu Serif", "labelFontSize": 14, "rowPadding": 6,
"encode": {"labels": {"update": {"fill": {"signal": "datum.value === 'B26' ? '#111111' : datum.value === 'STOCK1N-03331' ? '#f03030' : datum.value === 'STOCK3S-74396' ? '#30e030' : '#3030e8'"}}}}}}
}
}
]
}
],
"spacing": 69,
"bounds": "flush",
"resolve": {"scale": {"color": "independent"}}
}
